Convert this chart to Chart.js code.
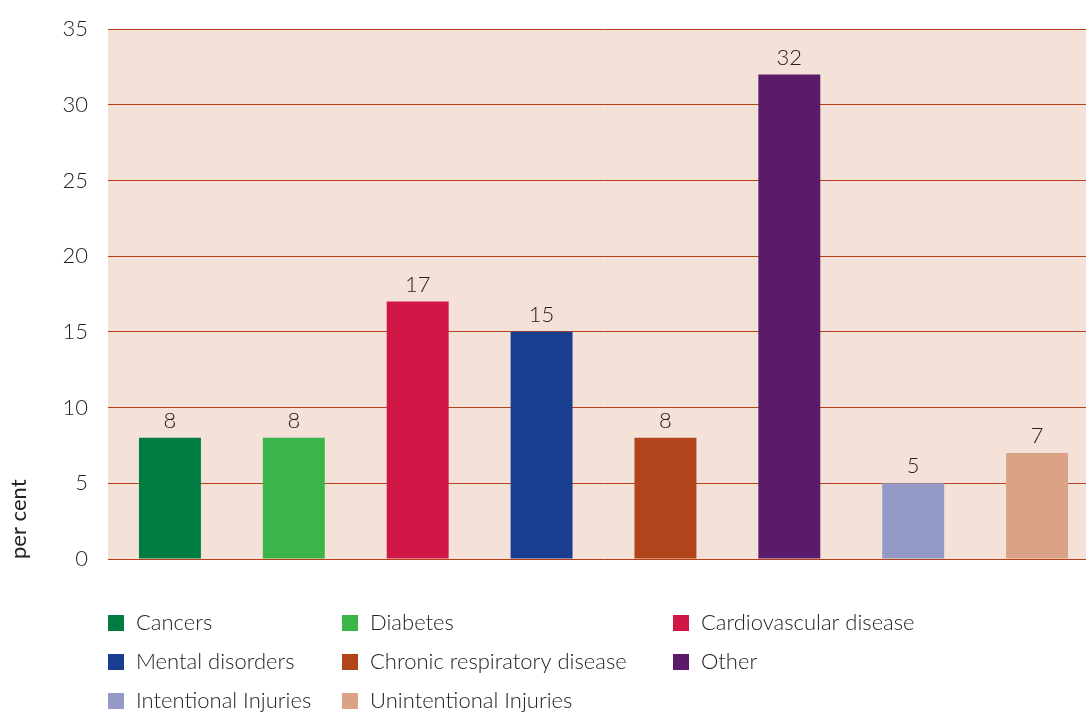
<!DOCTYPE html>
<html><head><meta charset="utf-8">
<script src="https://cdn.jsdelivr.net/npm/chart.js@4/dist/chart.umd.min.js"></script>
<style>html,body{margin:0;padding:0;background:#fff;overflow:hidden;}#wrap{width:1086px;height:713px;position:relative;overflow:hidden;}</style>
</head><body>
<div id="wrap"><canvas id="c" width="1099" height="713"></canvas></div>
<script>
const categories = ["Cancers","Diabetes","Cardiovascular disease","Mental disorders","Chronic respiratory disease","Other","Intentional Injuries","Unintentional Injuries"];
const values = [8,8,17,15,8,32,5,7];
const colors = ["#007c41","#3bb54a","#cf1645","#1a3e8f","#b1441b","#5c1a6b","#9499c6","#daa385"];
const yTicks = [0,5,10,15,20,25,30,35];
const yTitle = "per cent";

const FONT = "Lato, 'DejaVu Sans', sans-serif";
const TXT = "#222222";

const bgPlugin = {
  id:'bg',
  beforeDraw(chart){
    const {ctx, chartArea:a} = chart;
    ctx.save(); ctx.fillStyle = "#f4e1d7";
    ctx.fillRect(a.left, a.top, a.right - a.left, a.bottom - a.top);
    ctx.restore();
  }
};
const labelPlugin = {
  id:'vals',
  afterDraw(chart){
    const {ctx} = chart;
    const meta = chart.getDatasetMeta(0);
    ctx.save();
    ctx.font = "300 22px " + FONT; ctx.fillStyle = TXT;
    ctx.textAlign = "center"; ctx.textBaseline = "bottom";
    meta.data.forEach((bar, i) => { ctx.fillText(String(values[i]), bar.x, bar.y - 6); });
    ctx.restore();
  }
};
const legendPlugin = {
  id:'gridLegend',
  afterDraw(chart){
    const {ctx} = chart;
    const colX = [108, 342, 673];
    const rowY = [623, 662, 701];
    ctx.save();
    ctx.font = "300 22px " + FONT; ctx.textBaseline = "middle"; ctx.textAlign = "left";
    categories.forEach((name, i) => {
      const x = colX[i % 3], y = rowY[Math.floor(i / 3)];
      ctx.fillStyle = colors[i];
      ctx.fillRect(x, y - 8, 16, 16);
      ctx.fillStyle = TXT;
      ctx.fillText(name, x + 28, y);
    });
    ctx.restore();
  }
};

new Chart(document.getElementById('c'), {
  type: 'bar',
  data: { labels: categories, datasets: [{ data: values, backgroundColor: colors, barPercentage: 0.5, categoryPercentage: 1.0 }] },
  plugins: [bgPlugin, labelPlugin, legendPlugin],
  options: {
    responsive: false, animation: false,
    layout: { padding: { top: 29, bottom: 154, left: 0, right: 0 } },
    plugins: { legend: { display: false }, tooltip: { enabled: false } },
    scales: {
      x: { display: false, offset: true },
      y: {
        min: 0, max: 35, z: 1,
        afterFit(s){ s.width = 108; s.paddingTop = 0; s.paddingBottom = 0; },
        afterBuildTicks(s){ s.ticks = yTicks.map(v => ({value: v})); },
        grid: { color: "#b5401a", lineWidth: 1, drawTicks: false },
        border: { display: false },
        ticks: { padding: 20, font: { size: 22, family: FONT, weight: 300 }, color: TXT },
        title: { display: true, text: yTitle, align: 'start', font: { size: 22, family: FONT, weight: 400 }, color: TXT, padding: { top: 6, bottom: 0 } }
      }
    }
  }
});
</script>
</body></html>
